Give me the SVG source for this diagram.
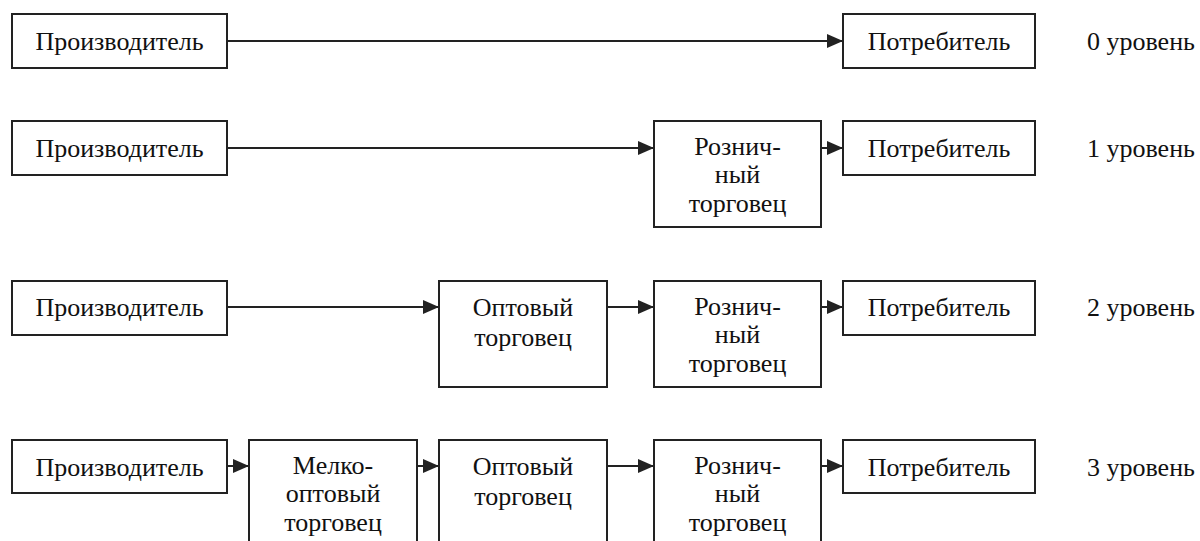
<svg xmlns="http://www.w3.org/2000/svg" width="1200" height="541" viewBox="0 0 1200 541" font-family="Liberation Serif, Tinos, Times New Roman, DejaVu Serif, serif">
<style>
.box{fill:#fff;stroke:#222;stroke-width:2}
.t{font-size:26px;fill:#111;text-anchor:middle}
.lvl{font-size:26px;fill:#111}
.c{stroke:#222;stroke-width:2;fill:none;marker-end:url(#ah)}
</style>
<defs>
<marker id="ah" markerUnits="userSpaceOnUse" markerWidth="18" markerHeight="18" viewBox="0 0 18 18" refX="17" refY="9" orient="auto">
<path d="M1,2 L17,9 L1,16 Z" fill="#222"/>
</marker>
</defs>
<g id="connectors">
<line class="c" x1="227" y1="41" x2="843" y2="41"/>
<line class="c" x1="227" y1="148" x2="654" y2="148"/>
<line class="c" x1="821" y1="148" x2="843" y2="148"/>
<line class="c" x1="227" y1="307" x2="439" y2="307"/>
<line class="c" x1="607" y1="307" x2="654" y2="307"/>
<line class="c" x1="821" y1="307" x2="843" y2="307"/>
<line class="c" x1="227" y1="466" x2="249" y2="466"/>
<line class="c" x1="417" y1="466" x2="439" y2="466"/>
<line class="c" x1="607" y1="466" x2="654" y2="466"/>
<line class="c" x1="821" y1="466" x2="843" y2="466"/>
</g>
<g id="r0-producer"><rect class="box" x="12" y="14" width="215" height="54"/><text class="t" x="119.5" y="50">Производитель</text></g>
<g id="r0-consumer"><rect class="box" x="843" y="14" width="192" height="54"/><text class="t" x="939" y="50">Потребитель</text></g>
<text class="lvl" x="1087" y="50">0 уровень</text>

<g id="r1-producer"><rect class="box" x="12" y="121" width="215" height="54"/><text class="t" x="119.5" y="157">Производитель</text></g>
<g id="r1-retail"><rect class="box" x="654" y="121" width="167" height="106"/><text class="t" x="737.5" y="155">Рознич-</text><text class="t" x="737.5" y="183">ный</text><text class="t" x="737.5" y="212">торговец</text></g>
<g id="r1-consumer"><rect class="box" x="843" y="121" width="192" height="54"/><text class="t" x="939" y="157">Потребитель</text></g>
<text class="lvl" x="1087" y="157">1 уровень</text>

<g id="r2-producer"><rect class="box" x="12" y="281" width="215" height="54"/><text class="t" x="119.5" y="316">Производитель</text></g>
<g id="r2-wholesale"><rect class="box" x="439" y="281" width="168" height="106"/><text class="t" x="523" y="316">Оптовый</text><text class="t" x="523" y="346">торговец</text></g>
<g id="r2-retail"><rect class="box" x="654" y="281" width="167" height="106"/><text class="t" x="737.5" y="315">Рознич-</text><text class="t" x="737.5" y="343">ный</text><text class="t" x="737.5" y="372">торговец</text></g>
<g id="r2-consumer"><rect class="box" x="843" y="281" width="192" height="54"/><text class="t" x="939" y="316">Потребитель</text></g>
<text class="lvl" x="1087" y="316">2 уровень</text>

<g id="r3-producer"><rect class="box" x="12" y="440" width="215" height="53"/><text class="t" x="119.5" y="476">Производитель</text></g>
<g id="r3-small-wholesale"><rect class="box" x="249" y="440" width="168" height="106"/><text class="t" x="333" y="474">Мелко-</text><text class="t" x="333" y="502">оптовый</text><text class="t" x="333" y="531">торговец</text></g>
<g id="r3-wholesale"><rect class="box" x="439" y="440" width="168" height="106"/><text class="t" x="523" y="475">Оптовый</text><text class="t" x="523" y="505">торговец</text></g>
<g id="r3-retail"><rect class="box" x="654" y="440" width="167" height="106"/><text class="t" x="737.5" y="474">Рознич-</text><text class="t" x="737.5" y="502">ный</text><text class="t" x="737.5" y="531">торговец</text></g>
<g id="r3-consumer"><rect class="box" x="843" y="440" width="192" height="53"/><text class="t" x="939" y="476">Потребитель</text></g>
<text class="lvl" x="1087" y="476">3 уровень</text>
</svg>
